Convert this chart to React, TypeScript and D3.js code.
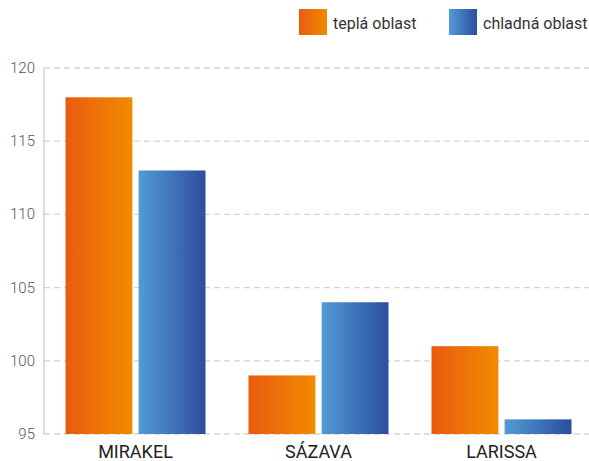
import React, { useEffect, useRef } from 'react';
import * as d3 from 'd3';

const categories = ['MIRAKEL', 'SÁZAVA', 'LARISSA'];
const seriesNames = ['teplá oblast', 'chladná oblast'];
const warmValues = [118, 99, 101];
const coldValues = [113, 104, 96];
const yTicks = [95, 100, 105, 110, 115, 120];

export default function App() {
  const ref = useRef<SVGSVGElement>(null);

  useEffect(() => {
    if (!ref.current) return;
    const svg = d3.select(ref.current);
    svg.selectAll('*').remove();

    const W = 589;
    const left = 44, right = 593, top = 68, bottom = 434;

    const defs = svg.append('defs');
    const grads = [
      { id: 'warm', from: '#e95b10', to: '#f28b00' },
      { id: 'cold', from: '#529bd6', to: '#2c4e9d' },
    ];
    grads.forEach(g => {
      const lg = defs.append('linearGradient').attr('id', g.id)
        .attr('x1', '0%').attr('y1', '0%').attr('x2', '100%').attr('y2', '0%');
      lg.append('stop').attr('offset', '0%').attr('stop-color', g.from);
      lg.append('stop').attr('offset', '100%').attr('stop-color', g.to);
    });

    const x0 = d3.scaleBand().domain(categories).range([left, right]).paddingInner(0.235).paddingOuter(0.1175);
    const x1 = d3.scaleBand().domain(seriesNames).range([0, x0.bandwidth()]).paddingInner(0.085);
    const y = d3.scaleLinear().domain([95, 120]).range([bottom, top]);

    // grid
    svg.append('g').selectAll('line').data(yTicks).join('line')
      .attr('x1', left).attr('x2', W)
      .attr('y1', d => y(d)).attr('y2', d => y(d))
      .attr('stroke', '#d4d4d4').attr('stroke-width', 1.3)
      .attr('stroke-dasharray', '6 4');

    // y axis line
    svg.append('line')
      .attr('x1', left).attr('x2', left)
      .attr('y1', y(120)).attr('y2', y(95))
      .attr('stroke', '#bdbdbd').attr('stroke-width', 1);

    svg.append('g').selectAll('text').data(yTicks).join('text')
      .attr('x', 35).attr('y', d => y(d) + 5)
      .attr('text-anchor', 'end')
      .attr('fill', '#555')
      .attr('font-family', 'Roboto, sans-serif')
      .attr('font-weight', 300)
      .attr('font-size', 15)
      .text(d => d);

    const rows = categories.map((c, i) => ({ c, vals: [warmValues[i], coldValues[i]] }));
    const groups = svg.append('g').selectAll('g').data(rows).join('g')
      .attr('transform', d => `translate(${x0(d.c)},0)`);
    groups.selectAll('rect').data(d => d.vals.map((v, j) => ({ v, s: seriesNames[j], j })))
      .join('rect')
      .attr('x', d => x1(d.s)!)
      .attr('width', x1.bandwidth())
      .attr('y', d => y(d.v))
      .attr('height', d => y(95) - y(d.v))
      .attr('fill', d => d.j === 0 ? 'url(#warm)' : 'url(#cold)');

    svg.append('g').selectAll('text').data(categories).join('text')
      .attr('x', d => x0(d)! + x0.bandwidth() / 2)
      .attr('y', 458)
      .attr('text-anchor', 'middle')
      .attr('fill', '#222')
      .attr('font-family', 'Roboto, sans-serif')
      .attr('font-size', 18)
      .text(d => d);

    // legend
    const legendX = [299, 449];
    seriesNames.forEach((s, i) => {
      svg.append('rect')
        .attr('x', legendX[i]).attr('y', 9)
        .attr('width', 28).attr('height', 26)
        .attr('fill', i === 0 ? 'url(#warm)' : 'url(#cold)');
      svg.append('text')
        .attr('x', legendX[i] + 34).attr('y', 29)
        .attr('fill', '#333')
        .attr('font-family', 'Roboto, sans-serif')
        .attr('font-size', 16)
        .text(s);
    });
  }, []);

  return (
    <svg ref={ref} width={589} height={461}
      style={{ position: 'absolute', left: 0, top: 0, background: '#fff' }} />
  );
}
